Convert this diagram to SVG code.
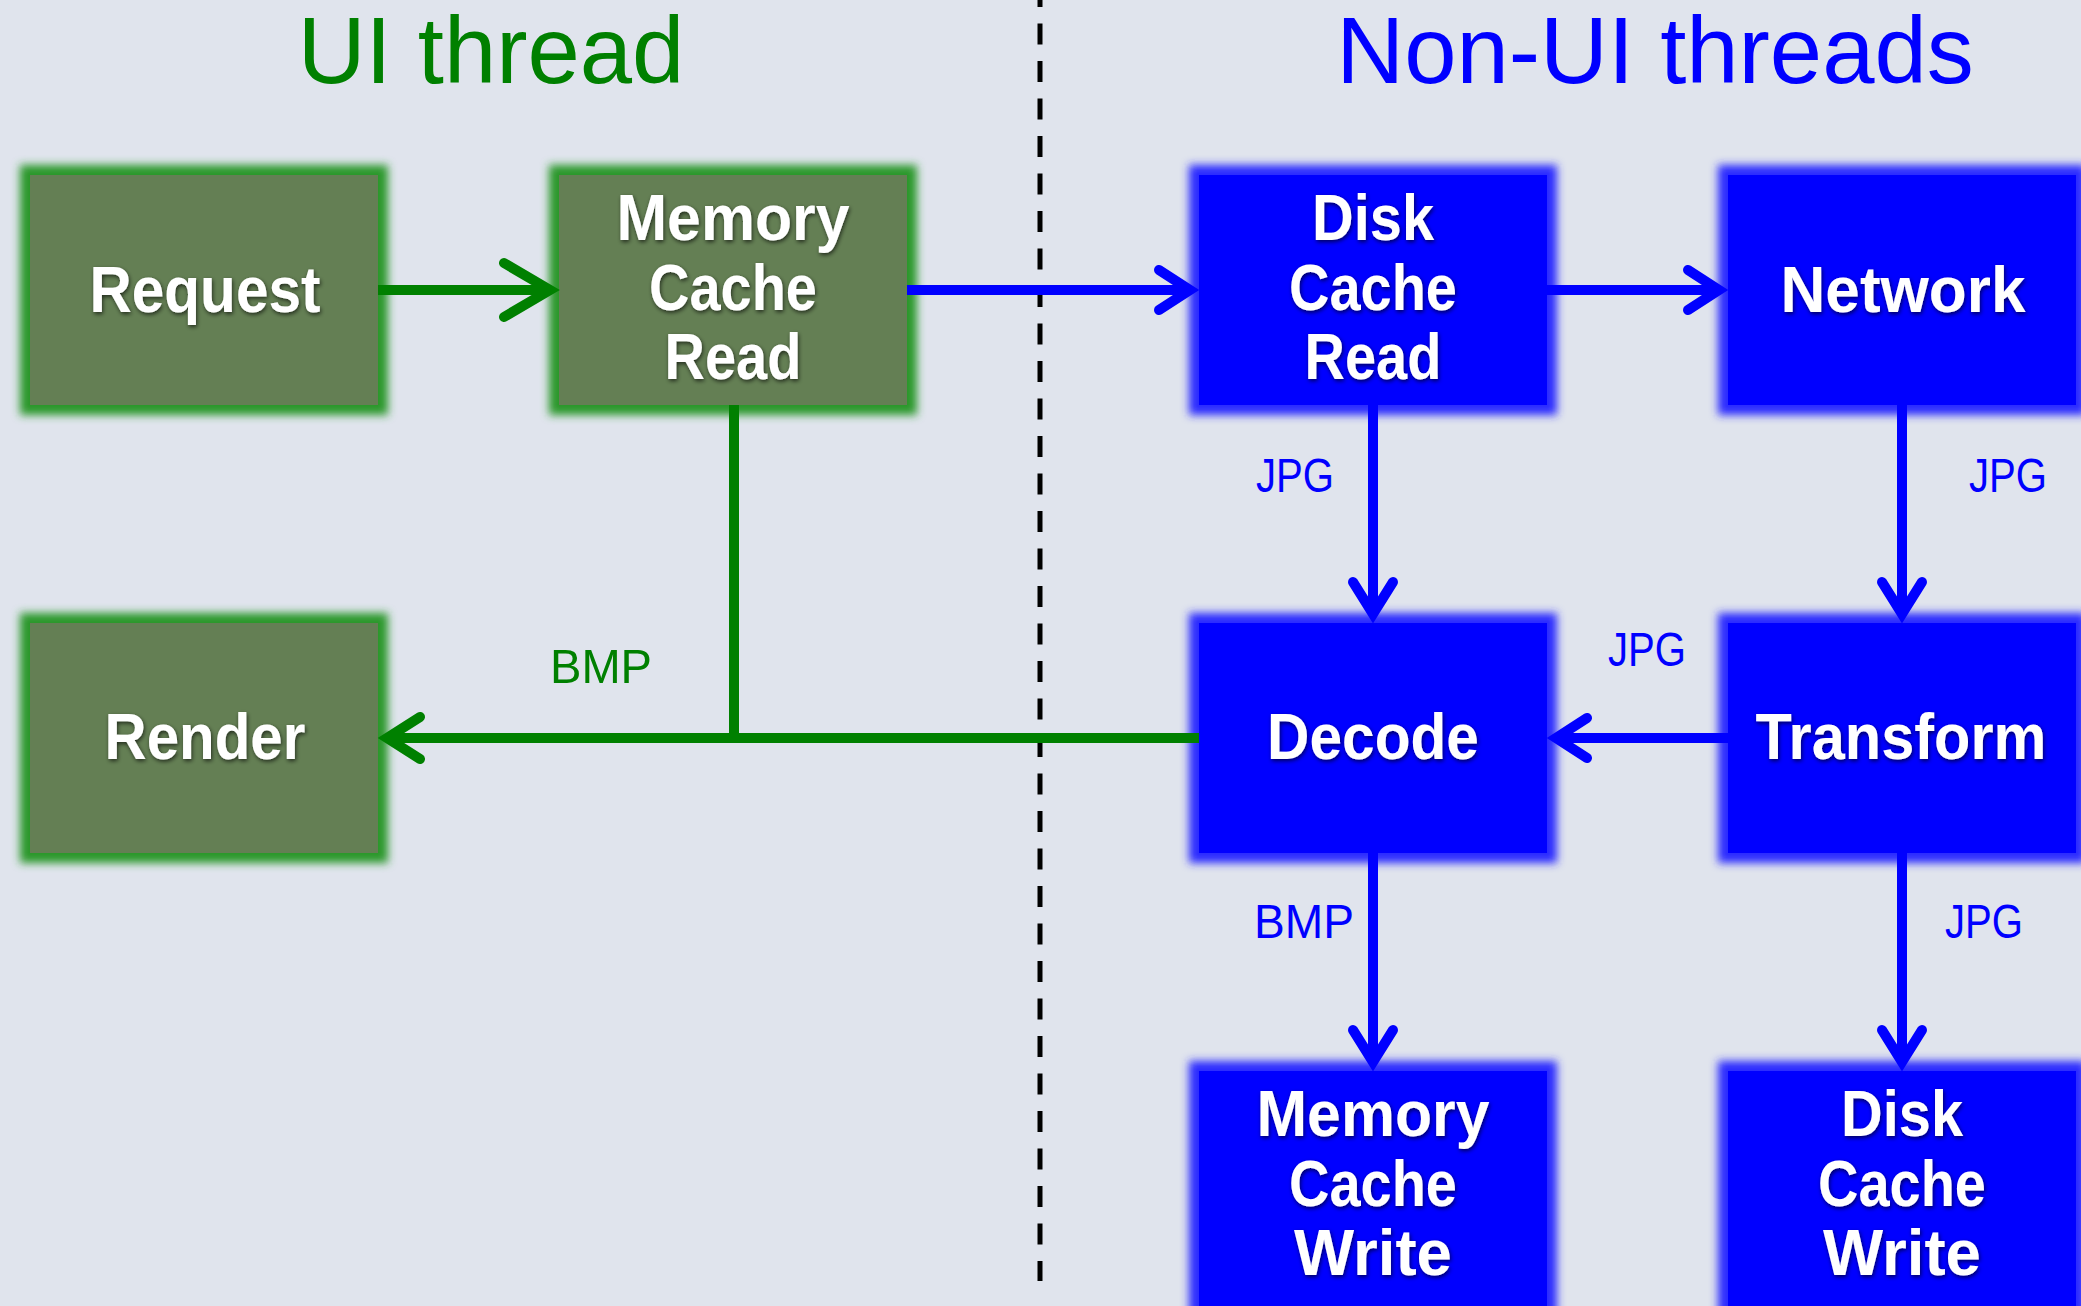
<svg xmlns="http://www.w3.org/2000/svg" width="2081" height="1306" viewBox="0 0 2081 1306">
<defs>
<style>
.bg{fill:#e0e4ed}
.gfill{fill:#647f54}
.gglow{fill:#2a982a;filter:url(#blur)}
.bfill{fill:#0000ff}
.bglow{fill:#2a2aff;filter:url(#blur)}
.lbl{font-family:"Liberation Sans",Arial,sans-serif;font-weight:bold;font-size:64px;fill:#ffffff;text-anchor:middle;filter:url(#ts)}
.title{font-family:"Liberation Sans",Arial,sans-serif;font-size:94px;text-anchor:middle}
.tag{font-family:"Liberation Sans",Arial,sans-serif;font-size:49px;text-anchor:middle}
.gl{stroke:#008000;stroke-width:10;fill:none}
.bl{stroke:#0000ff;stroke-width:10;fill:none}
.head{stroke-linecap:round;stroke-linejoin:miter;stroke-miterlimit:6}
</style>
<filter id="blur" x="-20%" y="-20%" width="140%" height="140%"><feGaussianBlur stdDeviation="4.5"/></filter>
<filter id="ts" x="-20%" y="-30%" width="140%" height="160%">
<feGaussianBlur in="SourceAlpha" stdDeviation="2"/>
<feOffset dx="1" dy="2" result="b"/>
<feFlood flood-color="#000" flood-opacity="0.65"/>
<feComposite in2="b" operator="in"/>
<feMerge><feMergeNode/><feMergeNode in="SourceGraphic"/></feMerge>
</filter>
</defs>
<rect class="bg" x="0" y="0" width="2081" height="1306"/>
<text class="title" x="491" y="83" fill="#008000">UI thread</text>
<text class="title" x="1655" y="83" fill="#0000ff">Non-UI threads</text>
<line x1="1040" y1="0" x2="1040" y2="1281" stroke="#000" stroke-width="5" stroke-dasharray="21 16.5" stroke-dashoffset="14"/>

<g id="request">
<rect class="gglow" x="20" y="165" width="368" height="250"/>
<rect class="gfill" x="30" y="175" width="348" height="230"/>
<text class="lbl" x="205" y="312" textLength="231" lengthAdjust="spacingAndGlyphs">Request</text>
</g>
<g id="memory-cache-read">
<rect class="gglow" x="549" y="165" width="368" height="250"/>
<rect class="gfill" x="559" y="175" width="348" height="230"/>
<text class="lbl" x="733" y="240" textLength="233" lengthAdjust="spacingAndGlyphs">Memory</text>
<text class="lbl" x="733" y="310" textLength="168" lengthAdjust="spacingAndGlyphs">Cache</text>
<text class="lbl" x="733" y="379" textLength="137" lengthAdjust="spacingAndGlyphs">Read</text>
</g>
<g id="render">
<rect class="gglow" x="20" y="613" width="368" height="250"/>
<rect class="gfill" x="30" y="623" width="348" height="230"/>
<text class="lbl" x="205" y="759" textLength="201" lengthAdjust="spacingAndGlyphs">Render</text>
</g>
<g id="disk-cache-read">
<rect class="bglow" x="1189" y="165" width="368" height="250"/>
<rect class="bfill" x="1199" y="175" width="348" height="230"/>
<text class="lbl" x="1373" y="240" textLength="122" lengthAdjust="spacingAndGlyphs">Disk</text>
<text class="lbl" x="1373" y="310" textLength="168" lengthAdjust="spacingAndGlyphs">Cache</text>
<text class="lbl" x="1373" y="379" textLength="137" lengthAdjust="spacingAndGlyphs">Read</text>
</g>
<g id="network">
<rect class="bglow" x="1718" y="165" width="368" height="250"/>
<rect class="bfill" x="1728" y="175" width="348" height="230"/>
<text class="lbl" x="1903" y="312" textLength="245" lengthAdjust="spacingAndGlyphs">Network</text>
</g>
<g id="decode">
<rect class="bglow" x="1189" y="613" width="368" height="250"/>
<rect class="bfill" x="1199" y="623" width="348" height="230"/>
<text class="lbl" x="1373" y="759" textLength="212" lengthAdjust="spacingAndGlyphs">Decode</text>
</g>
<g id="transform">
<rect class="bglow" x="1718" y="613" width="368" height="250"/>
<rect class="bfill" x="1728" y="623" width="348" height="230"/>
<text class="lbl" x="1901" y="759" textLength="291" lengthAdjust="spacingAndGlyphs">Transform</text>
</g>
<g id="memory-cache-write">
<rect class="bglow" x="1189" y="1061" width="368" height="260"/>
<rect class="bfill" x="1199" y="1071" width="348" height="240"/>
<text class="lbl" x="1373" y="1136" textLength="233" lengthAdjust="spacingAndGlyphs">Memory</text>
<text class="lbl" x="1373" y="1206" textLength="168" lengthAdjust="spacingAndGlyphs">Cache</text>
<text class="lbl" x="1373" y="1275" textLength="158" lengthAdjust="spacingAndGlyphs">Write</text>
</g>
<g id="disk-cache-write">
<rect class="bglow" x="1718" y="1061" width="368" height="260"/>
<rect class="bfill" x="1728" y="1071" width="348" height="240"/>
<text class="lbl" x="1902" y="1136" textLength="122" lengthAdjust="spacingAndGlyphs">Disk</text>
<text class="lbl" x="1902" y="1206" textLength="168" lengthAdjust="spacingAndGlyphs">Cache</text>
<text class="lbl" x="1902" y="1275" textLength="158" lengthAdjust="spacingAndGlyphs">Write</text>
</g>

<g id="connectors">
<line class="gl" x1="378" y1="290" x2="550" y2="290"/>
<path class="gl head" d="M504 263 L550 290 L504 317"/>
<line class="bl" x1="907" y1="290" x2="1190" y2="290"/>
<path class="bl head" d="M1159 270 L1190 290 L1159 310"/>
<line class="bl" x1="1547" y1="290" x2="1719" y2="290"/>
<path class="bl head" d="M1688 270 L1719 290 L1688 310"/>
<line class="bl" x1="1373" y1="405" x2="1373" y2="614"/>
<path class="bl head" d="M1353 582 L1373 614 L1393 582"/>
<line class="bl" x1="1902" y1="405" x2="1902" y2="614"/>
<path class="bl head" d="M1882 582 L1902 614 L1922 582"/>
<line class="bl" x1="1728" y1="738" x2="1556" y2="738"/>
<path class="bl head" d="M1587 718 L1556 738 L1587 758"/>
<line class="gl" x1="734" y1="405" x2="734" y2="743"/>
<line class="gl" x1="1199" y1="738" x2="387" y2="738"/>
<path class="gl head" d="M420 717 L387 738 L420 759"/>
<line class="bl" x1="1373" y1="853" x2="1373" y2="1062"/>
<path class="bl head" d="M1353 1030 L1373 1062 L1393 1030"/>
<line class="bl" x1="1902" y1="853" x2="1902" y2="1062"/>
<path class="bl head" d="M1882 1030 L1902 1062 L1922 1030"/>
<text class="tag" x="1295" y="492" fill="#0000ff" textLength="78" lengthAdjust="spacingAndGlyphs">JPG</text>
<text class="tag" x="2008" y="492" fill="#0000ff" textLength="78" lengthAdjust="spacingAndGlyphs">JPG</text>
<text class="tag" x="1647" y="666" fill="#0000ff" textLength="78" lengthAdjust="spacingAndGlyphs">JPG</text>
<text class="tag" x="601" y="683" fill="#008000" textLength="102" lengthAdjust="spacingAndGlyphs">BMP</text>
<text class="tag" x="1304" y="938" fill="#0000ff" textLength="100" lengthAdjust="spacingAndGlyphs">BMP</text>
<text class="tag" x="1984" y="938" fill="#0000ff" textLength="78" lengthAdjust="spacingAndGlyphs">JPG</text>
</g>
</svg>
